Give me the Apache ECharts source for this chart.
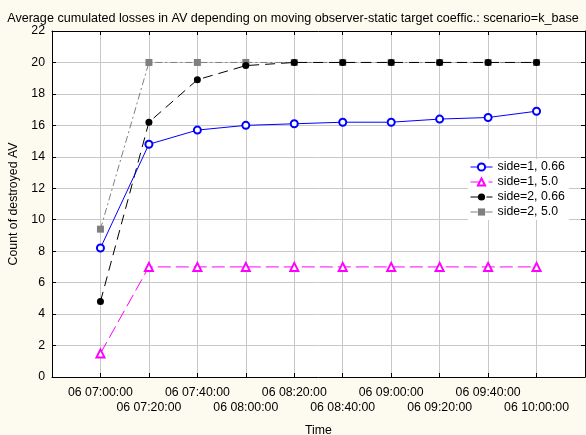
<!DOCTYPE html>
<html><head><meta charset="utf-8">
<script src="https://cdn.jsdelivr.net/npm/echarts@6/dist/echarts.min.js"></script>
<style>html,body{margin:0;padding:0;background:#fdfaef;}#c{width:586px;height:435px;}</style>
</head><body><div id="c"></div>
<script>
var categories = ['06 07:00:00','06 07:20:00','06 07:40:00','06 08:00:00','06 08:20:00','06 08:40:00','06 09:00:00','06 09:20:00','06 09:40:00','06 10:00:00'];
var side1_066 = [8.2, 14.8, 15.7, 16.0, 16.1, 16.2, 16.2, 16.4, 16.5, 16.9];
var side1_50  = [1.5, 7.0, 7.0, 7.0, 7.0, 7.0, 7.0, 7.0, 7.0, 7.0];
var side2_066 = [4.8, 16.2, 18.9, 19.8, 20.0, 20.0, 20.0, 20.0, 20.0, 20.0];
var side2_50  = [9.4, 20.0, 20.0, 20.0, 20.0, 20.0, 20.0, 20.0, 20.0, 20.0];
var yTicks = [0,2,4,6,8,10,12,14,16,18,20,22];
var seriesNames = ['side=1, 0.66','side=1, 5.0','side=2, 0.66','side=2, 5.0'];

function pts(arr){ return arr.map(function(v,i){ return [i, v]; }); }
var FONT = "'Liberation Sans', Arial, sans-serif";
var chart = echarts.init(document.getElementById('c'), null, {renderer:'canvas'});
chart.setOption({
  backgroundColor: '#fdfaef',
  animation: false,
  title: {
    text: 'Average cumulated losses in AV depending on moving observer-static target coeffic.: scenario=k_base',
    left: 'center', top: 7,
    textStyle: {fontFamily: FONT, fontSize: 12.6, fontWeight: 'normal', color: '#000'}
  },
  grid: {left: 52, right: 1, top: 31, bottom: 58, show: true, backgroundColor: '#ffffff', borderWidth: 0,
         outerBoundsMode: 'none', containLabel: false},
  legend: {
    orient: 'vertical', left: 468, top: 159,
    backgroundColor: '#ffffff', padding: [2,4,2,2],
    itemWidth: 22, itemHeight: 9, itemGap: 3,
    lineStyle: {width: 1},
    itemStyle: {borderWidth: 1},
    textStyle: {fontFamily: FONT, fontSize: 12.3, color: '#000'},
    data: seriesNames
  },
  xAxis: [{
    type: 'value', min: -1, max: 10, interval: 1,
    name: 'Time', nameLocation: 'middle', nameGap: 48,
    nameTextStyle: {fontFamily: FONT, fontSize: 12.3, color: '#000'},
    axisLine: {onZero: false, lineStyle: {color: '#000', width: 1}},
    axisTick: {inside: true, length: 4, lineStyle: {color: '#000'}},
    axisLabel: {
      fontFamily: FONT, fontSize: 12.3, color: '#000', margin: 8, lineHeight: 15,
      showMinLabel: false, showMaxLabel: false,
      formatter: function(v){
        var i = Math.round(v);
        if (i < 0 || i >= categories.length) return '';
        return (i % 2 === 1 ? '\n' : '') + categories[i];
      }
    },
    splitLine: {show: true, lineStyle: {color: '#c8c8c8', width: 1}}
  },{
    type: 'value', position: 'top', min: -1, max: 10, interval: 1,
    axisLine: {onZero: false, lineStyle: {color: '#000', width: 1}},
    axisTick: {inside: true, length: 4, lineStyle: {color: '#000'}},
    axisLabel: {show: false}, splitLine: {show: false}
  }],
  yAxis: [{
    type: 'value', min: yTicks[0], max: yTicks[yTicks.length-1], interval: 2,
    name: 'Count of destroyed AV', nameLocation: 'middle', nameGap: 32,
    nameTextStyle: {fontFamily: FONT, fontSize: 12.3, color: '#000'},
    axisLine: {show: true, onZero: false, lineStyle: {color: '#000', width: 1}},
    axisTick: {show: true, inside: true, length: 4, lineStyle: {color: '#000'}},
    axisLabel: {fontFamily: FONT, fontSize: 12.3, color: '#000', margin: 7},
    splitLine: {show: true, lineStyle: {color: '#c8c8c8', width: 1}}
  },{
    type: 'value', position: 'right', min: 0, max: 22, interval: 2,
    axisLine: {show: true, onZero: false, lineStyle: {color: '#000', width: 1}},
    axisTick: {show: true, inside: true, length: 4, lineStyle: {color: '#000'}},
    axisLabel: {show: false}, splitLine: {show: false}
  }],
  series: [
    {name: seriesNames[3], type: 'line', data: pts(side2_50), symbol: 'rect', symbolSize: 7,
     itemStyle: {color: '#7f7f7f'}, lineStyle: {color: '#7f7f7f', width: 1, type: [7,3,2,3]}, z: 2},
    {name: seriesNames[2], type: 'line', data: pts(side2_066), symbol: 'circle', symbolSize: 7,
     itemStyle: {color: '#000000'}, lineStyle: {color: '#000000', width: 1, type: [10,6]}, z: 3},
    {name: seriesNames[1], type: 'line', data: pts(side1_50), symbol: 'emptyTriangle', symbolSize: 8,
     itemStyle: {color: '#ff00ff', borderWidth: 1}, lineStyle: {color: '#ff00ff', width: 1, type: [13,5]}, z: 4},
    {name: seriesNames[0], type: 'line', data: pts(side1_066), symbol: 'emptyCircle', symbolSize: 7,
     itemStyle: {color: '#0000ff', borderWidth: 1}, lineStyle: {color: '#0000ff', width: 1}, z: 5}
  ]
});
</script></body></html>
